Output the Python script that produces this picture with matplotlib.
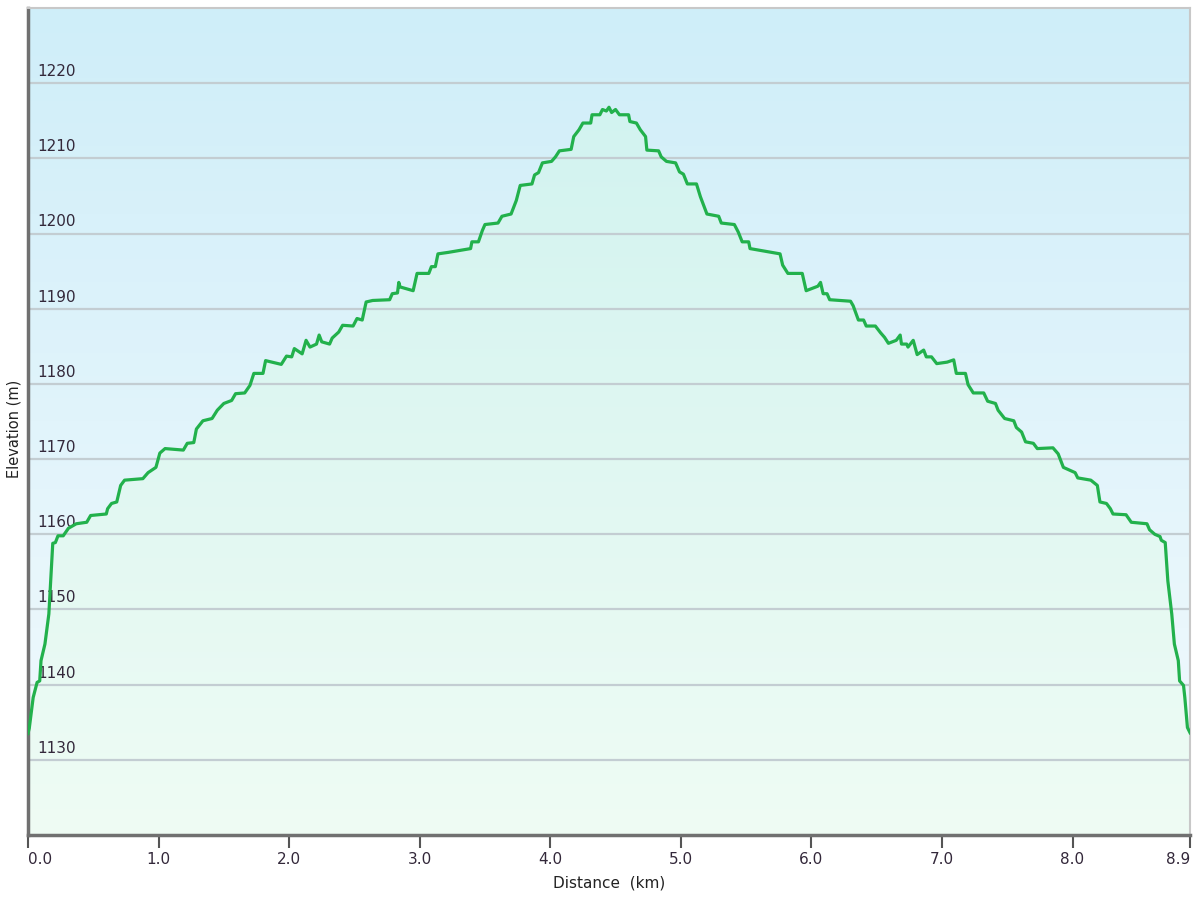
import numpy as np
import matplotlib
matplotlib.use("Agg")
import matplotlib.pyplot as plt
from matplotlib.colors import LinearSegmentedColormap
from matplotlib.patches import Polygon

# elevation profile (distance in km, elevation in m)
dist_km = [0.00, 0.01, 0.04, 0.07, 0.09, 0.10, 0.13, 0.16, 0.19, 0.21, 0.23, 0.27, 0.31, 0.37,
           0.45, 0.48, 0.60, 0.61, 0.64, 0.68, 0.71, 0.74, 0.88, 0.92, 0.98, 1.01, 1.05, 1.19,
           1.22, 1.27, 1.29, 1.34, 1.41, 1.45, 1.50, 1.56, 1.59, 1.66, 1.70, 1.73, 1.80, 1.82,
           1.94, 1.98, 2.02, 2.04, 2.10, 2.13, 2.16, 2.21, 2.23, 2.25, 2.31, 2.33, 2.38, 2.41,
           2.49, 2.52, 2.56, 2.59, 2.64, 2.77, 2.79, 2.83, 2.84, 2.85, 2.95, 2.98, 3.07, 3.09,
           3.12, 3.14, 3.22, 3.39, 3.40, 3.45, 3.48, 3.50, 3.60, 3.63, 3.70, 3.74, 3.77, 3.86,
           3.88, 3.91, 3.94, 4.01, 4.04, 4.07, 4.16, 4.18, 4.22, 4.25, 4.31, 4.32, 4.38, 4.40,
           4.43, 4.45, 4.47, 4.50, 4.53, 4.60, 4.61, 4.66, 4.69, 4.73, 4.74, 4.83, 4.85, 4.89,
           4.96, 4.99, 5.02, 5.05, 5.12, 5.15, 5.20, 5.29, 5.31, 5.41, 5.44, 5.47, 5.52, 5.53,
           5.76, 5.78, 5.82, 5.93, 5.96, 6.05, 6.07, 6.09, 6.12, 6.14, 6.30, 6.32, 6.36, 6.40,
           6.42, 6.49, 6.53, 6.56, 6.59, 6.65, 6.68, 6.69, 6.73, 6.74, 6.78, 6.81, 6.86, 6.88,
           6.92, 6.96, 7.04, 7.09, 7.11, 7.18, 7.20, 7.24, 7.32, 7.35, 7.41, 7.43, 7.48, 7.55,
           7.57, 7.61, 7.64, 7.70, 7.73, 7.85, 7.89, 7.93, 8.02, 8.04, 8.14, 8.19, 8.21, 8.26,
           8.29, 8.31, 8.41, 8.45, 8.57, 8.59, 8.63, 8.67, 8.68, 8.71, 8.73, 8.76, 8.78, 8.81,
           8.82, 8.85, 8.86, 8.88, 8.90]
elev_m = [1133.5, 1134.2, 1138.3, 1140.3, 1140.5, 1143.2, 1145.4, 1149.4, 1158.8, 1158.9, 1159.8,
          1159.8, 1160.8, 1161.4, 1161.6, 1162.5, 1162.7, 1163.4, 1164.1, 1164.3, 1166.5, 1167.2,
          1167.4, 1168.2, 1168.9, 1170.8, 1171.4, 1171.2, 1172.1, 1172.2, 1174.0, 1175.1, 1175.4,
          1176.5, 1177.4, 1177.8, 1178.7, 1178.8, 1179.8, 1181.4, 1181.4, 1183.1, 1182.6, 1183.7,
          1183.6, 1184.7, 1184.0, 1185.8, 1184.9, 1185.3, 1186.5, 1185.6, 1185.3, 1186.1, 1186.9,
          1187.8, 1187.7, 1188.7, 1188.5, 1190.9, 1191.1, 1191.2, 1192.0, 1192.1, 1193.5, 1192.9,
          1192.4, 1194.7, 1194.7, 1195.6, 1195.6, 1197.3, 1197.5, 1198.0, 1198.9, 1198.9, 1200.4,
          1201.2, 1201.4, 1202.3, 1202.6, 1204.4, 1206.4, 1206.6, 1207.8, 1208.1, 1209.4, 1209.6,
          1210.2, 1211.0, 1211.2, 1212.9, 1213.8, 1214.7, 1214.7, 1215.8, 1215.8, 1216.5, 1216.3,
          1216.8, 1216.1, 1216.5, 1215.8, 1215.8, 1214.9, 1214.7, 1213.8, 1212.9, 1211.1, 1211.0,
          1210.2, 1209.6, 1209.4, 1208.2, 1207.9, 1206.6, 1206.6, 1204.9, 1202.6, 1202.3, 1201.4,
          1201.2, 1200.2, 1198.9, 1198.9, 1198.0, 1197.3, 1195.8, 1194.7, 1194.7, 1192.4, 1193.0,
          1193.5, 1192.0, 1192.0, 1191.2, 1191.0, 1190.4, 1188.5, 1188.5, 1187.7, 1187.7, 1186.8,
          1186.2, 1185.4, 1185.8, 1186.5, 1185.3, 1185.3, 1184.9, 1185.8, 1183.9, 1184.5, 1183.6,
          1183.6, 1182.7, 1182.9, 1183.2, 1181.4, 1181.4, 1179.9, 1178.8, 1178.8, 1177.7, 1177.4,
          1176.5, 1175.4, 1175.1, 1174.2, 1173.6, 1172.3, 1172.1, 1171.4, 1171.5, 1170.7, 1168.9,
          1168.2, 1167.5, 1167.2, 1166.5, 1164.3, 1164.1, 1163.4, 1162.7, 1162.6, 1161.6, 1161.4,
          1160.6, 1160.0, 1159.7, 1159.2, 1158.9, 1153.8, 1149.4, 1145.4, 1143.2, 1140.5, 1139.9,
          1138.3, 1134.3, 1133.6]

y_ticks = [1130, 1140, 1150, 1160, 1170, 1180, 1190, 1200, 1210, 1220]
x_ticks = [0.0, 1.0, 2.0, 3.0, 4.0, 5.0, 6.0, 7.0, 8.0, 8.9]
x_min, x_max = 0.0, 8.9
y_min, y_max = 1120, 1230

fig = plt.figure(figsize=(12, 9), dpi=100)
ax = fig.add_axes([0.0233, 0.0722, 0.9684, 0.9189])

# background gradient
bg_cmap = LinearSegmentedColormap.from_list("bg", ["#f3fafd", "#cfeef9"])
grad = np.linspace(0, 1, 256).reshape(-1, 1)
ax.imshow(grad, extent=[x_min, x_max, y_min, y_max], origin="lower",
          aspect="auto", cmap=bg_cmap, zorder=0)

# gradient fill under the profile
fill_cmap = LinearSegmentedColormap.from_list("fill", ["#effcf4", "#d2f3f0"])
im = ax.imshow(grad, extent=[x_min, x_max, y_min, 1217], origin="lower",
               aspect="auto", cmap=fill_cmap, zorder=1)
verts = [(x_min, y_min)] + list(zip(dist_km, elev_m)) + [(dist_km[-1], y_min)]
poly = Polygon(verts, closed=True, facecolor="none", edgecolor="none")
ax.add_patch(poly)
im.set_clip_path(poly)

for yv in y_ticks:
    ax.axhline(yv, color="#c3cdd2", lw=1.6, zorder=2)
    ax.text(0.075, yv + 0.55, str(yv), fontsize=11, color="#33283a",
            ha="left", va="bottom", zorder=3)

ax.plot(dist_km, elev_m, color="#22b14c", lw=2.3, zorder=4, solid_joinstyle="round")

ax.set_xlim(x_min, x_max)
ax.set_ylim(y_min, y_max)
ax.set_yticks([])
ax.set_xticks(x_ticks)
ax.set_xticklabels([f"{v:.1f}" for v in x_ticks], fontsize=11, color="#33283a")
labels = ax.get_xticklabels()
labels[0].set_ha("left")
labels[-1].set_ha("right")
ax.tick_params(axis="x", direction="out", length=9, width=1.5, color="#555555", pad=3)

for side in ["left", "bottom"]:
    ax.spines[side].set_color("#707070")
    ax.spines[side].set_linewidth(2.5)
for side in ["top", "right"]:
    ax.spines[side].set_color("#c8c8c8")
    ax.spines[side].set_linewidth(1.5)

ax.set_xlabel("Distance  (km)", fontsize=11, color="#222222", labelpad=6)
fig.text(0.012, 0.523, "Elevation (m)", rotation=90, fontsize=10.5, color="#222222",
         ha="center", va="center")

fig.savefig("out.png", dpi=100)
